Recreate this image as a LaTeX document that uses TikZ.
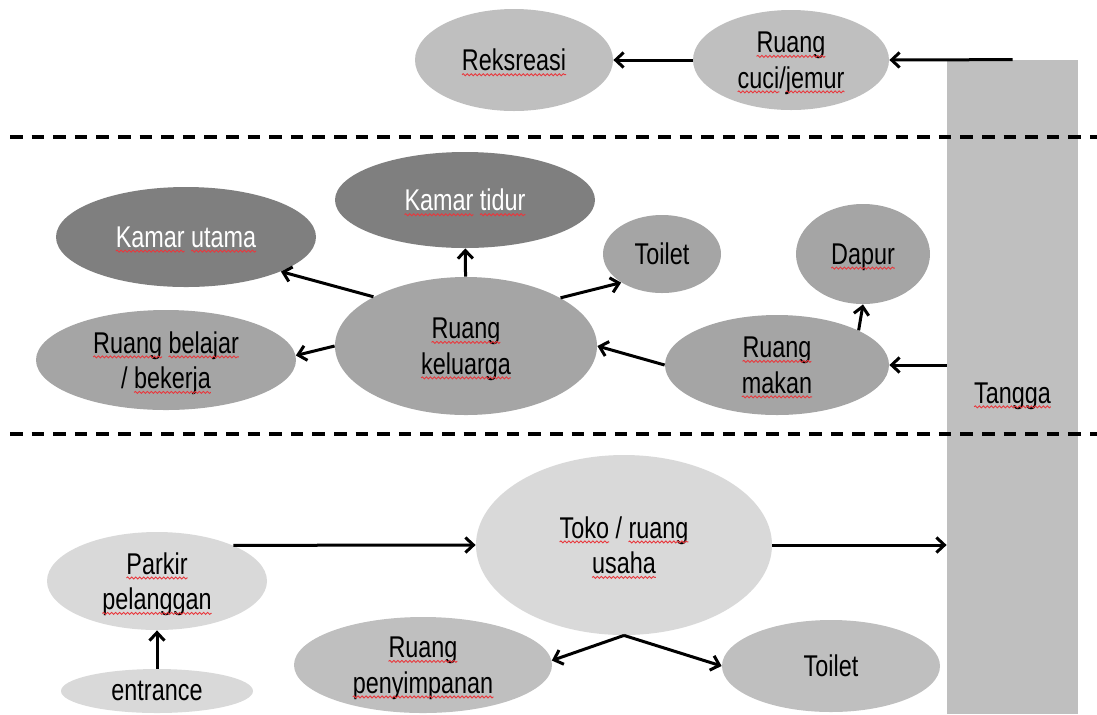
\documentclass[tikz,border=0pt]{standalone}
\usepackage{fontspec}
\setmainfont[FakeStretch=0.78]{Liberation Sans}
\usetikzlibrary{shapes.geometric,arrows.meta,decorations.pathmorphing}

\definecolor{upperroom}{HTML}{BFBFBF}
\definecolor{privateroom}{HTML}{7F7F7F}
\definecolor{familyroom}{HTML}{A5A5A5}
\definecolor{shoproom}{HTML}{D9D9D9}
\definecolor{serviceroom}{HTML}{BFBFBF}
\definecolor{stairs}{HTML}{BFBFBF}
\definecolor{squig}{HTML}{E8383D}

% red wavy underline of the spell checker
\newcommand{\sq}[1]{\tikz[baseline=(w.base)]{%
	\node[shape=rectangle, draw=none, fill=none, inner sep=0pt, outer sep=0pt,
	minimum width=0pt, minimum height=0pt] (w) {#1};
	\draw[overlay, squig, line width=0.45pt, decorate,
	decoration={snake, amplitude=0.5pt, segment length=2pt}]
	([yshift=-1.9pt]w.base west) -- ([yshift=-1.9pt]w.base east);}}

\begin{document}
\begin{tikzpicture}[
	x=0.5pt, y=-0.5pt,
	font=\fontsize{15}{17.75}\selectfont,
	room/.style={ellipse, inner sep=0pt, align=center, text depth=0pt},
	edge/.style={-{Straight Barb[length=4pt,width=7.5pt]}, line width=1.5pt},
	divider/.style={dash pattern=on 6.3pt off 4.5pt, line width=1.8pt},
	]
	\useasboundingbox (0,0) rectangle (1097,714);
	
	\node[fill=stairs, minimum width=65.5pt, minimum height=327pt, inner sep=0pt, text height=16pt, text depth=0pt] (tangga) at (1012.5,387) {\sq{Tangga}};
	
	% upper floor
	\node[room, fill=upperroom, minimum width=99pt, minimum height=51pt] (reks) at (514,60) {\sq{Reksreasi}};
	\node[room, fill=upperroom, minimum width=98pt, minimum height=50pt] (cuci) at (791,60) {\sq{Ruang}\\\sq{cuci}/\sq{jemur}};
	
	% middle floor
	\node[room, fill=privateroom, text=white, minimum width=130pt, minimum height=50pt] (utama) at (186,237) {\sq{Kamar} \sq{utama}};
	\node[room, fill=privateroom, text=white, minimum width=130pt, minimum height=48pt] (tidur) at (465,200) {\sq{Kamar} \sq{tidur}};
	\node[room, fill=familyroom, minimum width=59pt, minimum height=39pt] (toiletA) at (662,254) {Toilet};
	\node[room, fill=familyroom, minimum width=67pt, minimum height=50pt] (dapur) at (863,254) {\sq{Dapur}};
	\node[room, fill=familyroom, minimum width=130pt, minimum height=50pt] (belajar) at (166,360) {\sq{Ruang} \sq{belajar}\\/ \sq{bekerja}};
	\node[room, fill=familyroom, minimum width=131pt, minimum height=69pt] (keluarga) at (466,346) {\sq{Ruang}\\\sq{keluarga}};
	\node[room, fill=familyroom, minimum width=112pt, minimum height=50pt] (makan) at (777,365) {\sq{Ruang}\\\sq{makan}};
	
	% ground floor
	\node[room, fill=shoproom, minimum width=110pt, minimum height=49pt] (parkir) at (157,581) {\sq{Parkir}\\\sq{pelanggan}};
	\node[room, fill=shoproom, minimum width=96pt, minimum height=22pt] (entrance) at (157,691) {entrance};
	\node[room, fill=shoproom, minimum width=148pt, minimum height=90pt] (toko) at (624,545) {\sq{Toko} / \sq{ruang}\\\sq{usaha}};
	\node[room, fill=serviceroom, minimum width=129pt, minimum height=48pt] (penyim) at (423,665) {\sq{Ruang}\\\sq{penyimpanan}};
	\node[room, fill=serviceroom, minimum width=109pt, minimum height=46pt] (toiletB) at (831,666) {Toilet};
	
	\draw[divider] (10,137) -- (1097,137);
	\draw[divider] (10,434) -- (1097,434);
	
	\draw[edge] (tangga.north) -- (cuci.east);
	\draw[edge] (cuci.west) -- (reks.east);
	
	\draw[edge] (keluarga.152) -- (utama.340);
	\draw[edge] (keluarga) -- (tidur);
	\draw[edge] (keluarga.27) -- (toiletA.215);
	\draw[edge] (keluarga.180) -- (belajar.2);
	\draw[edge] (makan.west) -- (keluarga.east);
	\draw[edge] (makan.23) -- (dapur.south);
	\draw[edge] (makan.east -| tangga.west) -- (makan.east);
	
	\draw[edge] (entrance) -- (parkir);
	\draw[edge] (parkir.25) -- (toko.west);
	\draw[edge] (toko.east) -- (toko.east -| tangga.west);
	\draw[edge] (toko.south) -- (penyim.2);
	\draw[edge] (toko.south) -- (toiletB.west);
	
\end{tikzpicture}
\end{document}
